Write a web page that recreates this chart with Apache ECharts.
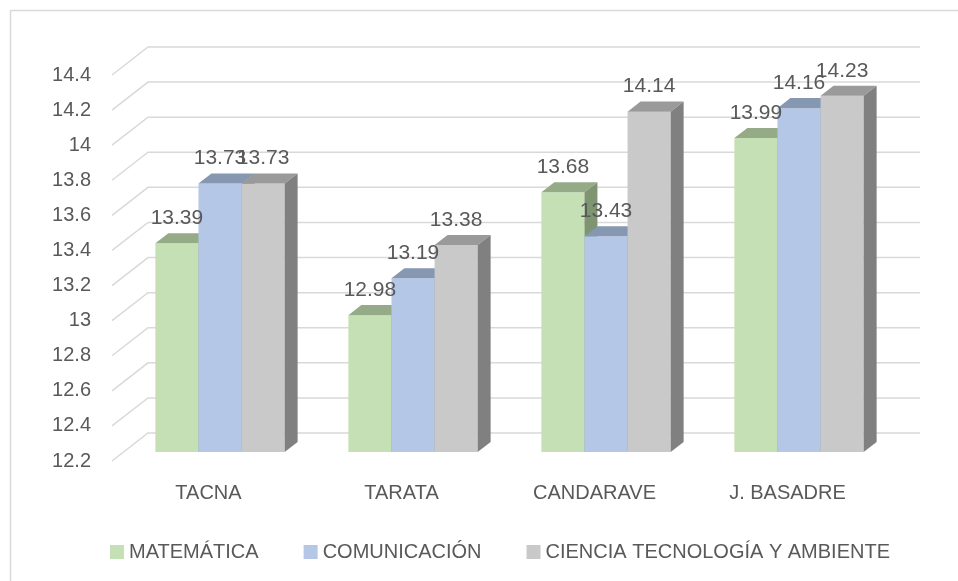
<!DOCTYPE html>
<html>
<head>
<meta charset="utf-8">
<script src="https://cdn.jsdelivr.net/npm/echarts@6/dist/echarts.min.js"></script>
<style>
  html, body { margin: 0; padding: 0; background: #fff; }
  #chart { width: 958px; height: 581px; }
</style>
</head>
<body>
<div id="chart"></div>
<script>
const categories = ['TACNA', 'TARATA', 'CANDARAVE', 'J. BASADRE']
const matematica = [13.39, 12.98, 13.68, 13.99]
const comunicacion = [13.73, 13.19, 13.43, 14.16]
const ciencia = [13.73, 13.38, 14.14, 14.23]
const seriesNames = ['MATEMÁTICA', 'COMUNICACIÓN', 'CIENCIA TECNOLOGÍA Y AMBIENTE']
const yTicks = [12.2, 12.4, 12.6, 12.8, 13, 13.2, 13.4, 13.6, 13.8, 14, 14.2, 14.4]

const FONT = '"Liberation Sans", Arial, sans-serif'
const TEXT_COLOR = '#595959'
// depth of the floor (front edge -> back wall), in px
const DEPTH_X = 36
const DEPTH_Y = 28
// bars sit between these fractions of the depth
const BAR_FRONT = 0.32
const BAR_DEPTH = 0.36
const GROUP_WIDTH = 0.67

const palette = [
  { front: '#C5E0B4', top: '#95AB88', side: '#7F9470' },
  { front: '#B4C7E7', top: '#8597B1', side: '#71819A' },
  { front: '#C9C9C9', top: '#9A9A9A', side: '#808080' }
]

const chart = echarts.init(document.getElementById('chart'))

function barShape(api, cat, val, idx) {
  const top = api.coord([cat, val])
  const base = api.coord([cat, yTicks[0]])
  const w = api.size([1, 0])[0] * GROUP_WIDTH / 3
  const ox = DEPTH_X * BAR_FRONT
  const oy = -DEPTH_Y * BAR_FRONT
  const x0 = top[0] - 1.5 * w + idx * w + ox
  return { x0: x0, x1: x0 + w, yt: top[1] + oy, yb: base[1] + oy }
}

function barRenderer(idx) {
  const c = palette[idx]
  return function (params, api) {
    const b = barShape(api, api.value(0), api.value(1), idx)
    const dx = DEPTH_X * BAR_DEPTH
    const dy = -DEPTH_Y * BAR_DEPTH
    return {
      type: 'group',
      children: [
        {
          type: 'rect',
          shape: { x: b.x0, y: b.yt, width: b.x1 - b.x0, height: b.yb - b.yt },
          style: { fill: c.front }
        },
        {
          type: 'polygon',
          shape: { points: [[b.x0, b.yt], [b.x1, b.yt], [b.x1 + dx, b.yt + dy], [b.x0 + dx, b.yt + dy]] },
          style: { fill: c.top }
        },
        {
          type: 'polygon',
          shape: { points: [[b.x1, b.yt], [b.x1 + dx, b.yt + dy], [b.x1 + dx, b.yb + dy], [b.x1, b.yb]] },
          style: { fill: c.side }
        }
      ]
    }
  }
}

const values = [matematica, comunicacion, ciencia]
const labelData = []
values.forEach((arr, s) => {
  arr.forEach((v, i) => labelData.push([i, v, s]))
})

const barSeries = values.map((arr, s) => ({
  name: seriesNames[s],
  type: 'custom',
  z: 2,
  clip: false,
  itemStyle: { color: palette[s].front },
  renderItem: barRenderer(s),
  encode: { x: 0, y: 1 },
  data: arr.map((v, i) => [i, v])
}))

chart.setOption({
  animation: false,
  textStyle: { fontFamily: FONT },
  graphic: [{
    type: 'rect',
    shape: { x: 10.5, y: 10.5, width: 960, height: 600 },
    style: { fill: 'none', stroke: '#d9d9d9', lineWidth: 1.5 },
    silent: true
  }],
  grid: {
    left: 112,
    right: 74,
    top: 75,
    bottom: 120
  },
  legend: {
    data: seriesNames,
    left: 105,
    top: 537,
    icon: 'rect',
    itemWidth: 14,
    itemHeight: 14,
    itemGap: 45,
    textStyle: { color: TEXT_COLOR, fontSize: 20, fontFamily: FONT }
  },
  xAxis: {
    type: 'category',
    data: categories,
    axisLine: { show: false },
    axisTick: { show: false },
    splitLine: { show: false },
    axisLabel: { color: TEXT_COLOR, fontSize: 20, fontFamily: FONT, margin: 22 }
  },
  yAxis: {
    type: 'value',
    min: 12.2,
    max: 14.4,
    interval: 0.2,
    axisLine: { show: false },
    axisTick: { show: false },
    splitLine: { show: false },
    axisLabel: { color: TEXT_COLOR, fontSize: 20, fontFamily: FONT, margin: 21, padding: [4, 0, 0, 0] }
  },
  series: [
    {
      // 3d walls: diagonal on the floor side + line on the back wall
      type: 'custom',
      z: 1,
      silent: true,
      clip: false,
      renderItem: function (params, api) {
        const cs = params.coordSys
        const y = api.coord([0, api.value(1)])[1]
        return {
          type: 'polyline',
          shape: { points: [[cs.x, y], [cs.x + DEPTH_X, y - DEPTH_Y], [cs.x + cs.width + DEPTH_X, y - DEPTH_Y]] },
          style: { stroke: '#d9d9d9', lineWidth: 1.5, fill: 'none' }
        }
      },
      encode: { x: 0, y: 1 },
      data: yTicks.map(v => [0, v])
    },
    ...barSeries,
    {
      // data labels on top of every bar
      type: 'custom',
      z: 3,
      silent: true,
      clip: false,
      renderItem: function (params, api) {
        const b = barShape(api, api.value(0), api.value(1), api.value(2))
        return {
          type: 'text',
          style: {
            text: String(api.value(1)),
            x: (b.x0 + b.x1) / 2,
            y: b.yt - 25,
            align: 'center',
            verticalAlign: 'middle',
            fill: TEXT_COLOR,
            fontSize: 21,
            fontFamily: FONT
          }
        }
      },
      encode: { x: 0, y: 1 },
      data: labelData
    }
  ]
})
</script>
</body>
</html>
